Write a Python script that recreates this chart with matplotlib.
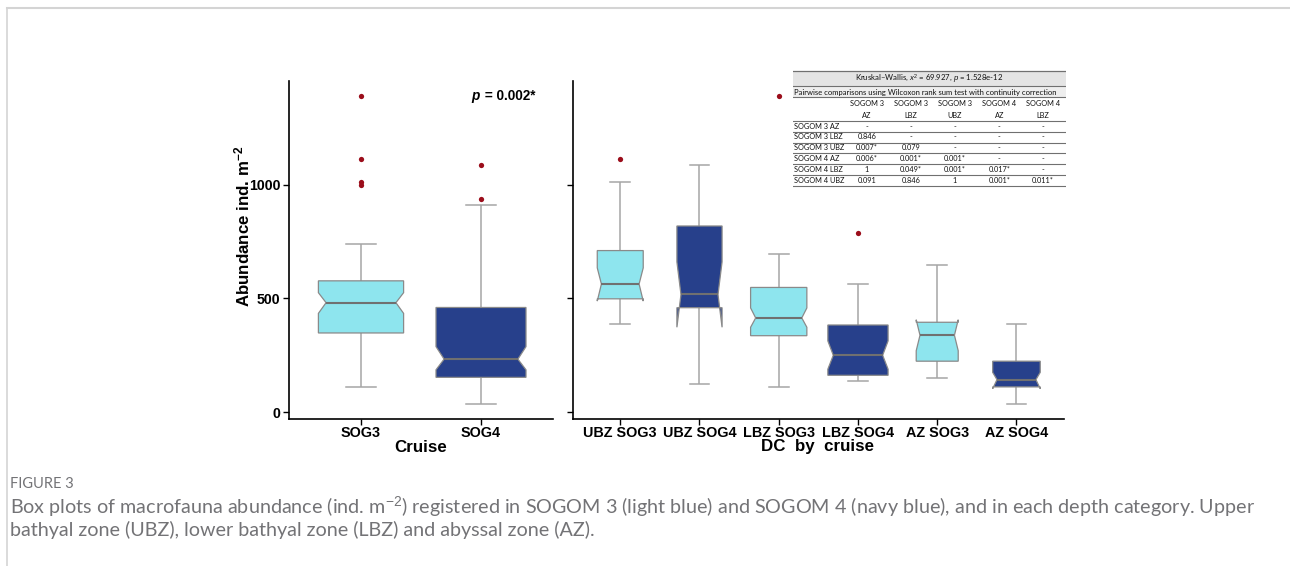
import matplotlib
matplotlib.use("Agg")
import matplotlib.pyplot as plt
from matplotlib.patches import Polygon, Rectangle
from matplotlib.lines import Line2D

plt.rcParams['font.family'] = ['Liberation Sans', 'DejaVu Sans']
plt.rcParams['mathtext.fontset'] = 'custom'
plt.rcParams['mathtext.rm'] = 'Liberation Sans'
plt.rcParams['mathtext.it'] = 'Liberation Sans:italic'
plt.rcParams['mathtext.bf'] = 'Liberation Sans:bold'

# ---- abundance summaries by cruise (ind. m^-2) ----
cruise_labels = ["SOG3", "SOG4"]
cruise_whislo = [112, 35]
cruise_q1 = [348, 153]
cruise_notch_lo = [434, 186]
cruise_med = [481, 233]
cruise_notch_hi = [525, 288]
cruise_q3 = [577, 460]
cruise_whishi = [738, 911]
cruise_fliers = [[1387, 1112, 1012, 998], [1086, 937]]
cruise_group = ["SOGOM 3", "SOGOM 4"]

# ---- abundance summaries by depth category and cruise ----
dc_labels = ["UBZ SOG3", "UBZ SOG4", "LBZ SOG3", "LBZ SOG4", "AZ SOG3", "AZ SOG4"]
dc_whislo = [386, 123, 111, 136, 149, 35]
dc_q1 = [498, 459, 336, 162, 224, 111]
dc_notch_lo = [488, 373, 373, 189, 270, 103]
dc_med = [563, 517, 414, 250, 338, 143]
dc_notch_hi = [634, 660, 458, 313, 406, 175]
dc_q3 = [710, 818, 548, 383, 395, 224]
dc_whishi = [1011, 1085, 697, 561, 647, 386]
dc_fliers = [[1111], [], [1387], [788], [], []]
dc_group = ["SOGOM 3", "SOGOM 4", "SOGOM 3", "SOGOM 4", "SOGOM 3", "SOGOM 4"]

# ---- pairwise test table ----
kw_title = r"Kruskal–Wallis, $x^2$ = 69.927, $p$ = 1.528e-12"
pw_title = "Pairwise comparisons using Wilcoxon rank sum test with continuity correction"
table_cols = ["SOGOM 3\nAZ", "SOGOM 3\nLBZ", "SOGOM 3\nUBZ", "SOGOM 4\nAZ", "SOGOM 4\nLBZ"]
table_rows = ["SOGOM 3 AZ", "SOGOM 3 LBZ", "SOGOM 3 UBZ", "SOGOM 4 AZ", "SOGOM 4 LBZ", "SOGOM 4 UBZ"]
table_vals = [
    ["-", "-", "-", "-", "-"],
    ["0.846", "-", "-", "-", "-"],
    ["0.007*", "0.079", "-", "-", "-"],
    ["0.006*", "0.001*", "0.001*", "-", "-"],
    ["1", "0.049*", "0.001*", "0.017*", "-"],
    ["0.091", "0.846", "1", "0.001*", "0.011*"],
]

p_value_text = "0.002*"
caption_title = "FIGURE 3"
caption_line1 = (r"Box plots of macrofauna abundance (ind. m$^{-2}$) registered in SOGOM 3 (light blue) "
                 r"and SOGOM 4 (navy blue), and in each depth category. Upper")
caption_line2 = "bathyal zone (UBZ), lower bathyal zone (LBZ) and abyssal zone (AZ)."

# ---- styling ----
FILL = {"SOGOM 3": "#8EE5EE", "SOGOM 4": "#27408B"}
EDGE = "#8a8a8a"
WHISKER = "#a6a6a6"
MEDIAN = "#707070"
OUTLIER = "#9b0d1b"
CAPTION = "#737376"
TXT = "#111111"

W, H = 1290, 566
fig = plt.figure(figsize=(W / 100, H / 100), dpi=100)


def px_rect(x0, y0, x1, y1):
    return [x0 / W, 1 - y1 / H, (x1 - x0) / W, (y1 - y0) / H]


def fx(px):
    return px / W


def fy(py):
    return 1 - py / H


def draw_boxes(ax, labels, lo, q1, nlo, med, nhi, q3, hi, fliers, groups, widths):
    for i in range(len(labels)):
        x = i + 1
        w = widths[i]
        xl, xr = x - w / 2, x + w / 2
        ind = 0.09 * w
        cap = 0.125
        ax.plot([x, x], [lo[i], hi[i]], color=WHISKER, lw=1.1, zorder=1, solid_capstyle='butt')
        ax.plot([x - cap, x + cap], [hi[i], hi[i]], color=WHISKER, lw=1.1, zorder=1)
        ax.plot([x - cap, x + cap], [lo[i], lo[i]], color=WHISKER, lw=1.1, zorder=1)
        verts = [(xl, q3[i]), (xl, nhi[i]), (xl + ind, med[i]), (xl, nlo[i]), (xl, q1[i]),
                 (xr, q1[i]), (xr, nlo[i]), (xr - ind, med[i]), (xr, nhi[i]), (xr, q3[i])]
        ax.add_patch(Polygon(verts, closed=True, fc=FILL[groups[i]], ec=EDGE, lw=0.9, zorder=2))
        ax.plot([xl + ind, xr - ind], [med[i], med[i]], color=MEDIAN, lw=1.5, zorder=3,
                solid_capstyle='butt')
        if fliers[i]:
            ax.plot([x] * len(fliers[i]), fliers[i], 'o', color=OUTLIER, ms=3.8, mec='none', zorder=4)


def style_axis(ax, labels, show_y):
    ax.set_xlim(0.4, len(labels) + 0.6)
    ax.set_ylim(-30, 1455)
    for s in ("top", "right"):
        ax.spines[s].set_visible(False)
    for s in ("left", "bottom"):
        ax.spines[s].set_linewidth(1.2)
        ax.spines[s].set_color("black")
    ax.set_xticks(range(1, len(labels) + 1))
    ax.set_xticklabels(labels, fontsize=10.4, fontweight='bold', color='black')
    ax.set_yticks([0, 500, 1000])
    if show_y:
        ax.set_yticklabels(["0", "500", "1000"], fontsize=10.2, fontweight='bold', color='black')
    else:
        ax.set_yticklabels([])
    ax.tick_params(axis='both', length=4, width=1.0, color='black', pad=2)
    ax.tick_params(axis='x', pad=1)
    ax.set_facecolor('none')


ax1 = fig.add_axes(px_rect(289, 81, 553, 419))
ax2 = fig.add_axes(px_rect(572.7, 81, 1064, 419))

draw_boxes(ax1, cruise_labels, cruise_whislo, cruise_q1, cruise_notch_lo, cruise_med,
           cruise_notch_hi, cruise_q3, cruise_whishi, cruise_fliers, cruise_group, [0.71, 0.75])
draw_boxes(ax2, dc_labels, dc_whislo, dc_q1, dc_notch_lo, dc_med, dc_notch_hi, dc_q3,
           dc_whishi, dc_fliers, dc_group, [0.58, 0.57, 0.71, 0.76, 0.53, 0.60])
style_axis(ax1, cruise_labels, True)
style_axis(ax2, dc_labels, False)

# p-value annotation
ax1.text(1.99, 1387, "p", fontsize=9.8, fontweight='bold', fontstyle='italic',
         ha='right', va='center')
ax1.text(2.0, 1387, " = " + p_value_text, fontsize=9.8, fontweight='bold',
         ha='left', va='center')

# axis titles
fig.text(fx(242), fy(226), r"Abundance ind. m$^{\mathbf{-2}}$", rotation=90, fontsize=12.2,
         fontweight='bold', ha='center', va='center')
fig.text(fx(421), fy(447), "Cruise", fontsize=12.2, fontweight='bold', ha='center', va='center')
fig.text(fx(818), fy(447), "DC  by  cruise", fontsize=12.2, fontweight='bold',
         ha='center', va='center')

# ---- statistics table drawn in pixel space ----
tx0, tx1, ty0, ty1 = 793, 1066, 70, 188
tab = fig.add_axes(px_rect(tx0, ty0, tx1, ty1))
tab.set_xlim(tx0, tx1)
tab.set_ylim(ty1, ty0)
tab.axis('off')
TF = ['Lato', 'DejaVu Sans']
tab.add_patch(Rectangle((tx0, 70.5), tx1 - tx0, 15.5, fc="#e4e4e4", ec='none'))
tab.add_patch(Rectangle((tx0, 86), tx1 - tx0, 11, fc="#eeeeee", ec='none'))
tab.text((tx0 + tx1) / 2, 79.5, kw_title, fontsize=5.6, family=TF, ha='center', va='center',
         color=TXT)
tab.text(tx0 + 1.5, 92, pw_title, fontsize=5.5, family=TF, ha='left', va='center', color=TXT)
for yl, lw in [(70.5, 0.9), (86, 0.8), (97.3, 0.8), (120.7, 0.8)]:
    tab.plot([tx0, tx1], [yl, yl], color='#707070', lw=lw)
col_x = [866.7, 910.7, 955, 999.3, 1042.7]
for cx, lab in zip(col_x, table_cols):
    top, bottom = lab.split("\n")
    tab.text(cx, 104, top, fontsize=5.3, family=TF, ha='center', va='center', color=TXT)
    tab.text(cx, 116, bottom, fontsize=5.3, family=TF, ha='center', va='center', color=TXT)
row_y = [126.7, 136.9, 147.6, 158.6, 169.4, 180.4]
row_line = [131.7, 142.5, 153.3, 164.2, 175.0, 186.3]
for ry, rl, rlab, vals in zip(row_y, row_line, table_rows, table_vals):
    tab.text(tx0 + 1.5, ry, rlab, fontsize=5.3, family=TF, ha='left', va='center', color=TXT)
    for cx, v in zip(col_x, vals):
        tab.text(cx, ry, v, fontsize=5.3, family=TF, ha='center', va='center', color=TXT)
    tab.plot([tx0, tx1], [rl, rl], color='#707070', lw=0.8)

# ---- caption and page frame ----
CF = ['Lato', 'DejaVu Sans']
fig.text(fx(10), fy(484), caption_title, fontsize=10.5, family=CF,
         color=CAPTION, ha='left', va='center')
fig.text(fx(10), fy(507), caption_line1, fontsize=14.2, family=CF,
         color=CAPTION, ha='left', va='center')
fig.text(fx(10), fy(530), caption_line2, fontsize=14.2, family=CF,
         color=CAPTION, ha='left', va='center')

fig.add_artist(Line2D([fx(7), 1.0], [fy(8), fy(8)], color='#d4d4d4', lw=1.5))
fig.add_artist(Line2D([fx(7), fx(7)], [fy(8), 0.0], color='#d4d4d4', lw=1.2))

fig.savefig("out.png", dpi=100)
